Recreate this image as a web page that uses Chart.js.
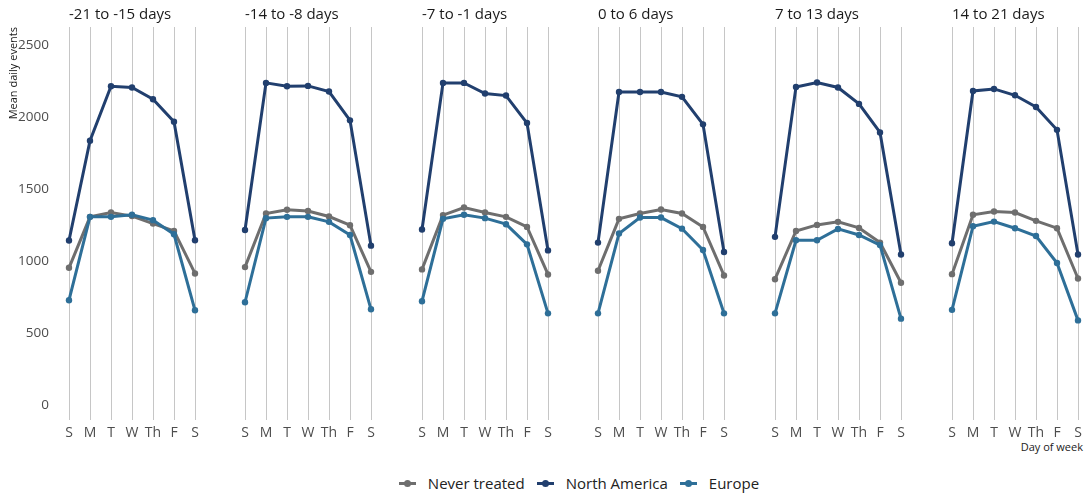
<!DOCTYPE html>
<html lang="en">
<head>
    <meta charset="UTF-8">
    <title>Mean daily events by day of week</title>
    <script src="https://cdn.jsdelivr.net/npm/chart.js"></script>
    <style>
        body { margin: 0; background: #fff; font-family: "Open Sans", sans-serif; }
        #wrap { position: relative; width: 1086px; height: 497px; overflow: hidden; }
        .panel { position: absolute; top: 0; }
        #xlabel { position: absolute; right: 3px; top: 439px; font-size: 11px; color: #222; }
        #legend { position: absolute; left: 36px; width: 1086px; top: 473px; display: flex; justify-content: center; gap: 12px; font-size: 15px; color: #222; }
        .item { display: flex; align-items: center; }
        .mark { position: relative; width: 17px; height: 3px; margin-right: 12px; }
        .mark::after { content: ""; position: absolute; left: 5px; top: -2px; width: 7px; height: 7px; border-radius: 50%; background: inherit; }
    </style>
</head>
<body>
<div id="wrap">
    <div id="xlabel">Day of week</div>
    <div id="legend"></div>
</div>

<script>
    const days = ['S', 'M', 'T', 'W', 'Th', 'F', 'S'];
    const periods = ['-21 to -15 days', '-14 to -8 days', '-7 to -1 days', '0 to 6 days', '7 to 13 days', '14 to 21 days'];
    const yTicks = [0, 500, 1000, 1500, 2000, 2500];

    const neverTreated = [
        [953, 1307, 1337, 1312, 1260, 1209, 914],
        [958, 1330, 1356, 1347, 1309, 1249, 925],
        [942, 1319, 1372, 1337, 1307, 1237, 907],
        [933, 1293, 1330, 1358, 1330, 1237, 900],
        [874, 1209, 1251, 1272, 1230, 1128, 849],
        [909, 1321, 1344, 1337, 1279, 1228, 879]
    ];
    const northAmerica = [
        [1143, 1836, 2214, 2205, 2123, 1968, 1144],
        [1216, 2237, 2214, 2216, 2177, 1977, 1107],
        [1219, 2237, 2237, 2163, 2149, 1958, 1074],
        [1128, 2174, 2174, 2174, 2140, 1949, 1063],
        [1168, 2209, 2240, 2205, 2091, 1893, 1045],
        [1124, 2181, 2195, 2151, 2070, 1911, 1045]
    ];
    const europe = [
        [728, 1307, 1307, 1321, 1284, 1186, 658],
        [714, 1298, 1307, 1307, 1272, 1181, 665],
        [721, 1293, 1321, 1298, 1256, 1116, 637],
        [637, 1191, 1302, 1302, 1225, 1077, 637],
        [637, 1144, 1144, 1223, 1181, 1111, 600],
        [661, 1242, 1274, 1228, 1174, 986, 588]
    ];

    const seriesNames = ['Never treated', 'North America', 'Europe'];
    const seriesColors = ['#6e6e6e', '#213f6e', '#2e6f98'];
    const seriesData = [neverTreated, northAmerica, europe];

    // layout: x of the first "S" line in each panel
    const panelStart = [69, 245, 422, 598, 775, 952];
    const panelW = 126, pad = 12, axisW = 69;

    const wrap = document.getElementById('wrap');

    periods.forEach((period, p) => {
        const first = p === 0;
        const left = first ? 0 : panelStart[p] - pad;
        const width = first ? axisW + panelW + pad : panelW + 2 * pad;

        const div = document.createElement('div');
        div.className = 'panel';
        div.style.left = left + 'px';
        const canvas = document.createElement('canvas');
        canvas.width = width;
        canvas.height = 445;
        div.appendChild(canvas);
        wrap.appendChild(div);

        const yAxis = {
            display: first,
            min: -105,
            max: 2625,
            afterBuildTicks: s => { s.ticks = yTicks.map(v => ({ value: v })); },
            grid: { display: false },
            border: { display: false },
            ticks: {
                color: '#4d4d4d', padding: 12, font: { family: 'Open Sans', size: 13.5 },
                callback: v => String(v)
            },
            title: {
                display: true,
                text: 'Mean daily events',
                align: 'end',
                color: '#1a1a1a',
                font: { family: 'Open Sans', size: 11 },
                padding: { top: 7, bottom: 0 }
            }
        };
        if (first) yAxis.afterFit = s => { s.width = axisW; };

        new Chart(canvas, {
            type: 'line',
            data: {
                labels: days,
                datasets: seriesNames.map((name, s) => ({
                    label: name,
                    data: seriesData[s][p],
                    borderColor: seriesColors[s],
                    backgroundColor: seriesColors[s],
                    borderWidth: 3,
                    pointRadius: 3.2,
                    pointBorderWidth: 0,
                    tension: 0,
                    order: 2 - s,
                    clip: false
                }))
            },
            options: {
                responsive: false,
                animation: false,
                events: [],
                layout: { padding: { left: first ? 0 : pad, right: pad, top: 0, bottom: 0 } },
                plugins: {
                    legend: { display: false },
                    tooltip: { enabled: false },
                    title: {
                        display: true,
                        text: period,
                        align: 'start',
                        fullSize: false,
                        color: '#1a1a1a',
                        font: { family: 'Open Sans', size: 15, weight: 'normal', lineHeight: 1.2 },
                        padding: { top: 6, bottom: 3 }
                    }
                },
                scales: {
                    x: {
                        offset: false,
                        grid: { color: '#c6c6c6', lineWidth: 1, drawTicks: false },
                        border: { display: false },
                        ticks: { color: '#4d4d4d', padding: 4, font: { family: 'Open Sans', size: 14 }, maxRotation: 0, autoSkip: false }
                    },
                    y: yAxis
                }
            }
        });
    });

    // legend
    const legend = document.getElementById('legend');
    seriesNames.forEach((name, s) => {
        const item = document.createElement('div');
        item.className = 'item';
        const mark = document.createElement('span');
        mark.className = 'mark';
        mark.style.background = seriesColors[s];
        item.appendChild(mark);
        item.appendChild(document.createTextNode(name));
        legend.appendChild(item);
    });
</script>
</body>
</html>
